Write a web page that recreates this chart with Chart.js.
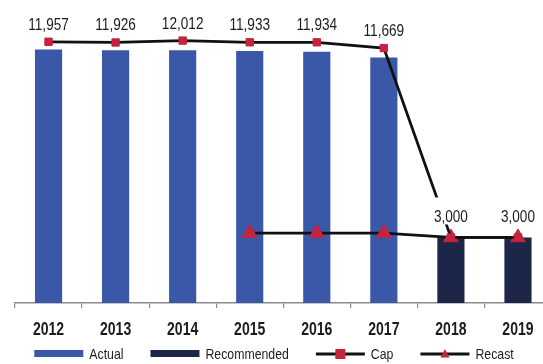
<!DOCTYPE html>
<html>
<head>
<meta charset="utf-8">
<script src="https://cdn.jsdelivr.net/npm/chart.js@4/dist/chart.umd.min.js"></script>
<style>
  html, body { margin: 0; padding: 0; background: #ffffff; overflow: hidden; }
  #wrap { position: absolute; left: 0; top: 0; width: 543px; height: 364px; overflow: hidden; }
  #c { position: absolute; left: 0; top: 0; }
</style>
</head>
<body>
<div id="wrap"><canvas id="c" width="561" height="364"></canvas></div>
<script>
// Fiscal years on the category axis
const years = ['2012', '2013', '2014', '2015', '2016', '2017', '2018', '2019'];

// Bar series
const actual      = [11600, 11570, 11570, 11530, 11500, 11240, null, null];
const recommended = [null, null, null, null, null, null, 3000, 3000];

// Line series
const cap    = [11957, 11926, 12012, 11933, 11934, 11669, 3000, 3000];
const recast = [null, null, null, 3200, 3200, 3200, 3000, 3000];

// Styling
const FACE = '"Liberation Sans", Arial, sans-serif';
const SQUEEZE = 0.8;          // horizontal compression for a condensed look
const BLUE = '#3b57a8';
const NAVY = '#1c2648';
const RED  = '#c4243d';
const INK  = '#111111';
const TEXT = '#1c1c1c';

// Draw text compressed horizontally
function narrowText(c, txt, x, y, font, align, sx) {
  c.save();
  c.font = font;
  const w = c.measureText(txt).width * sx;
  let left = x;
  if (align === 'center') left = x - w / 2;
  else if (align === 'right') left = x - w;
  c.translate(left, y);
  c.scale(sx, 1);
  c.textAlign = 'left';
  c.textBaseline = 'alphabetic';
  c.fillText(txt, 0, 0);
  c.restore();
  return w;
}
function narrowWidth(c, txt, font, sx) {
  c.save();
  c.font = font;
  const w = c.measureText(txt).width * sx;
  c.restore();
  return w;
}

// Year labels under the category axis
const yearLabels = {
  id: 'yearLabels',
  afterDraw(chart) {
    const c = chart.ctx;
    const xs = chart.scales.x;
    c.save();
    c.fillStyle = TEXT;
    years.forEach((yr, i) => {
      narrowText(c, yr, xs.getPixelForValue(i), xs.top + 31.5, 'bold 18px ' + FACE, 'center', 0.78);
    });
    c.restore();
  }
};

// Value labels above the Cap markers, on a white plate
const capLabels = {
  id: 'capLabels',
  afterDatasetsDraw(chart) {
    const idx = chart.data.datasets.findIndex(d => d.label === 'Cap');
    const meta = chart.getDatasetMeta(idx);
    const c = chart.ctx;
    const font = '17px ' + FACE;
    c.save();
    meta.data.forEach((pt, j) => {
      const txt = cap[j].toLocaleString('en-US');
      const lift = j >= 6 ? 15 : 12;
      const base = pt.y - lift;
      const w = narrowWidth(c, txt, font, SQUEEZE);
      c.fillStyle = '#ffffff';
      c.fillRect(pt.x - w / 2 - 2, base - 25, w + 4, 27);
      c.fillStyle = TEXT;
      narrowText(c, txt, pt.x, base, font, 'center', SQUEEZE);
    });
    c.restore();
  }
};

// Legend row along the bottom edge
const legendRow = {
  id: 'legendRow',
  afterDraw(chart) {
    const c = chart.ctx;
    const items = chart.data.datasets;
    const SYM = 49, GAP_TXT = 6, GAP_ITEM = 27, CY = 354, CENTER = 274;
    const font = '15px ' + FACE;
    const widths = items.map(ds => SYM + GAP_TXT + narrowWidth(c, ds.label, font, 0.82));
    const total = widths.reduce((a, b) => a + b, 0) + GAP_ITEM * (items.length - 1);
    let x = CENTER - total / 2;
    c.save();
    items.forEach((ds, k) => {
      if (ds.type === 'bar') {
        c.fillStyle = ds.backgroundColor;
        c.fillRect(x, CY - 4, SYM, 7);
      } else {
        c.strokeStyle = ds.borderColor;
        c.lineWidth = 3;
        c.beginPath();
        c.moveTo(x, CY);
        c.lineTo(x + SYM, CY);
        c.stroke();
        c.fillStyle = ds.pointBackgroundColor;
        const mx = x + SYM / 2;
        if (ds.pointStyle === 'rect') {
          c.fillRect(mx - 5, CY - 5, 10, 10);
        } else {
          c.beginPath();
          c.moveTo(mx, CY - 5);
          c.lineTo(mx + 4.5, CY + 3.5);
          c.lineTo(mx - 4.5, CY + 3.5);
          c.closePath();
          c.fill();
        }
      }
      c.fillStyle = TEXT;
      narrowText(c, ds.label, x + SYM + GAP_TXT, CY + 5.3, font, 'left', 0.82);
      x += widths[k] + GAP_ITEM;
    });
    c.restore();
  }
};

new Chart(document.getElementById('c'), {
  type: 'bar',
  data: {
    labels: years,
    datasets: [
      {
        type: 'bar', label: 'Actual', data: actual,
        backgroundColor: BLUE, grouped: false, order: 2,
        barPercentage: 0.405, categoryPercentage: 1
      },
      {
        type: 'bar', label: 'Recommended', data: recommended,
        backgroundColor: NAVY, grouped: false, order: 2,
        barPercentage: 0.405, categoryPercentage: 1
      },
      {
        type: 'line', label: 'Cap', data: cap,
        borderColor: INK, borderWidth: 2.8, tension: 0,
        pointStyle: 'rect', pointRadius: 5.2,
        pointBackgroundColor: RED, pointBorderColor: RED, pointBorderWidth: 1,
        order: 0
      },
      {
        type: 'line', label: 'Recast', data: recast,
        borderColor: INK, borderWidth: 2.8, tension: 0,
        pointStyle: 'triangle', pointRadius: 8.5,
        pointBackgroundColor: RED, pointBorderColor: RED, pointBorderWidth: 1,
        order: 1
      }
    ]
  },
  options: {
    responsive: false,
    animation: false,
    layout: { padding: { left: 15, right: 0, top: 19, bottom: 16.4 } },
    plugins: { legend: { display: false }, tooltip: { enabled: false } },
    scales: {
      x: {
        offset: true,
        grid: { display: true, drawOnChartArea: false, drawTicks: true, tickLength: 5, color: '#8c8c8c', lineWidth: 1.2 },
        border: { display: true, color: '#8c8c8c', width: 1.5 },
        ticks: { font: { family: FACE, size: 18, weight: 'bold' }, color: 'rgba(0,0,0,0)', padding: 9, maxRotation: 0, autoSkip: false }
      },
      y: { display: false, min: 0, max: 13000 }
    }
  },
  plugins: [capLabels, yearLabels, legendRow]
});
</script>
</body>
</html>
